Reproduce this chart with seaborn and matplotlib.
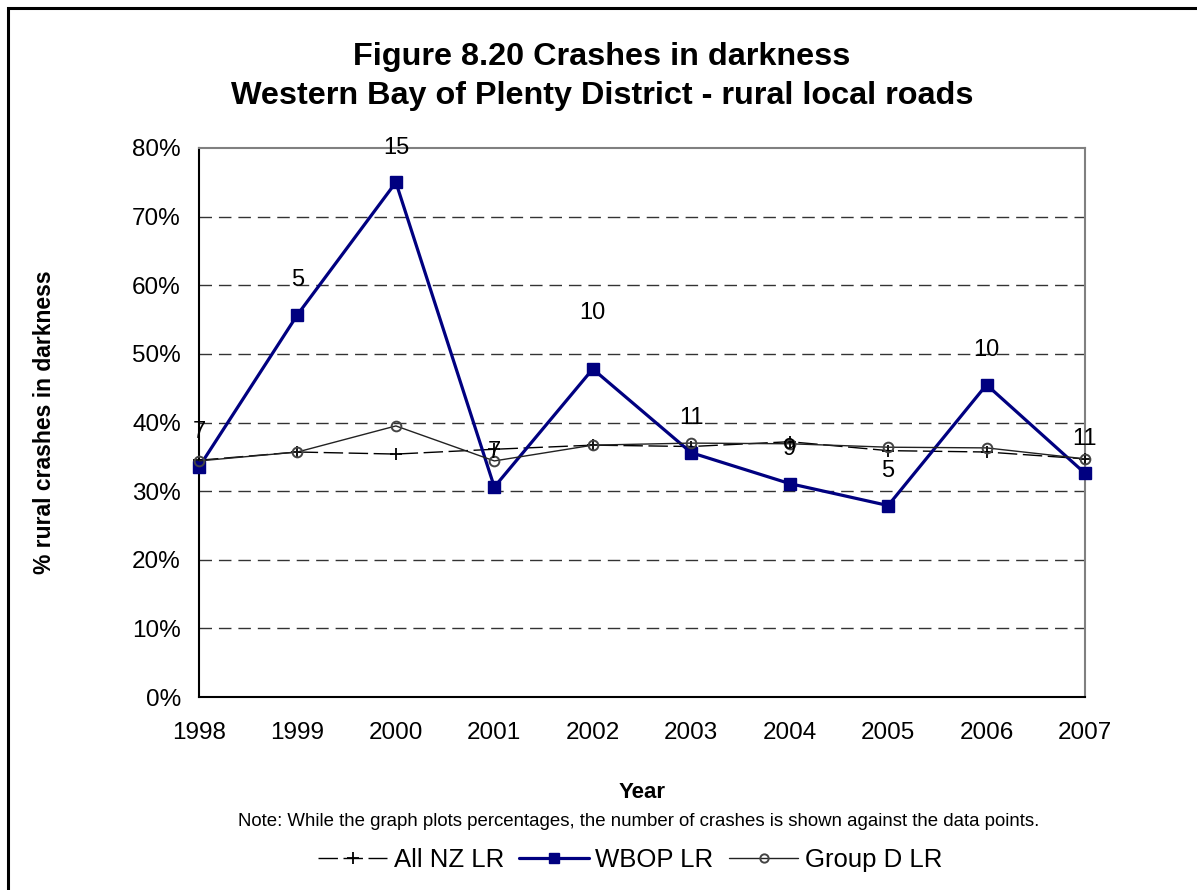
import pandas as pd
import matplotlib.pyplot as plt
import matplotlib.patches as patches
from matplotlib.lines import Line2D
from matplotlib.ticker import PercentFormatter
import seaborn as sns

years = [1998, 1999, 2000, 2001, 2002, 2003, 2004, 2005, 2006, 2007]
all_nz = [0.345, 0.357, 0.354, 0.361, 0.367, 0.365, 0.372, 0.359, 0.357, 0.347]
wbop = [0.335, 0.557, 0.750, 0.306, 0.478, 0.356, 0.311, 0.279, 0.455, 0.326]
group_d = [0.344, 0.357, 0.395, 0.344, 0.367, 0.370, 0.369, 0.364, 0.363, 0.347]
wbop_counts = [7, 5, 15, 7, 10, 11, 9, 5, 10, 11]

series_names = ['All NZ LR', 'WBOP LR', 'Group D LR']

sns.set_style('white')
plt.rcParams['font.family'] = ['Liberation Sans', 'DejaVu Sans']
plt.rcParams['text.color'] = 'black'
plt.rcParams['axes.labelcolor'] = 'black'
plt.rcParams['xtick.color'] = 'black'
plt.rcParams['ytick.color'] = 'black'

df = pd.DataFrame({
    'Year': years * 3,
    'value': all_nz + wbop + group_d,
    'series': [s for s in series_names for _ in years],
})

fig = plt.figure(figsize=(11.97, 8.90), dpi=100)
ax = fig.add_axes([199 / 1197, 1 - 697 / 890, (1085 - 199) / 1197, (697 - 148) / 890])

styles = {
    'All NZ LR': dict(color='black', lw=1.0, marker='+', ms=9, mew=1.3,
                      mfc='black', mec='black', dashes=(14, 4)),
    'WBOP LR': dict(color='#000080', lw=2.3, marker='s', ms=8, mew=1,
                    mfc='#000080', mec='#000080', dashes=()),
    'Group D LR': dict(color='#222222', lw=1.0, marker='o', ms=7, mew=1.4,
                       mfc='none', mec='#444444', dashes=()),
}

for name in series_names:
    st = styles[name]
    sub = df[df['series'] == name]
    line_ax = sns.lineplot(data=sub, x='Year', y='value', ax=ax, color=st['color'],
                           linewidth=st['lw'], marker=st['marker'], markersize=st['ms'],
                           markeredgewidth=st['mew'], markerfacecolor=st['mfc'],
                           markeredgecolor=st['mec'], legend=False, clip_on=False, zorder=3)
    ln = line_ax.lines[-1]
    if st['dashes']:
        ln.set_dashes(st['dashes'])

# number of crashes against WBOP points
for yr, v, n in zip(years, wbop, wbop_counts):
    off = 40 if yr == 2002 else 25
    ax.annotate(str(n), (yr, v), xytext=(0, off), textcoords='offset points',
                ha='center', va='center', fontsize=17, zorder=4)

ax.set_xlim(1998, 2007)
ax.set_ylim(0, 0.8)
ax.set_xticks(years)
ax.set_xticklabels([str(y) for y in years])
ax.set_yticks([i / 10 for i in range(9)])
ax.yaxis.set_major_formatter(PercentFormatter(1.0, decimals=0))
ax.tick_params(axis='both', labelsize=17.5, length=7, width=1, direction='out', color='black')
ax.tick_params(axis='x', pad=11)
ax.tick_params(axis='y', pad=6)

for y in [i / 10 for i in range(1, 8)]:
    ax.axhline(y, color='#333333', lw=1, dashes=(9, 5), zorder=1)

for side in ['left', 'bottom']:
    ax.spines[side].set_color('black')
    ax.spines[side].set_linewidth(1.5)
for side in ['top', 'right']:
    ax.spines[side].set_color('#808080')
    ax.spines[side].set_linewidth(1.5)

ax.set_xlabel('Year', fontsize=16, fontweight='bold', labelpad=27)
ax.set_ylabel('% rural crashes in darkness', fontsize=16.5, fontweight='bold', labelpad=55)

fig.text(602 / 1197, 1 - 57 / 890, 'Figure 8.20 Crashes in darkness', ha='center', va='center',
         fontsize=23.3, fontweight='bold')
fig.text(602 / 1197, 1 - 96 / 890, 'Western Bay of Plenty District - rural local roads',
         ha='center', va='center', fontsize=23.3, fontweight='bold')
fig.text(639 / 1197, 1 - 821 / 890,
         'Note: While the graph plots percentages, the number of crashes is shown against the data points.',
         ha='center', va='center', fontsize=13.4)

handles = []
for name in series_names:
    st = styles[name]
    h = Line2D([], [], color=st['color'], lw=st['lw'], marker=st['marker'], markersize=st['ms'] - 1,
               markeredgewidth=st['mew'], markerfacecolor=st['mfc'], markeredgecolor=st['mec'])
    if st['dashes']:
        h.set_dashes(st['dashes'])
    handles.append(h)
fig.legend(handles, series_names, loc='center', bbox_to_anchor=(630 / 1197, 1 - 860 / 890),
           ncol=3, frameon=False, fontsize=18.5, handlelength=2.7, handletextpad=0.25,
           columnspacing=0.6)

border = patches.Rectangle((8 / 1197, -0.1), 1.2, 1.1 - 8 / 890, transform=fig.transFigure,
                           fill=False, edgecolor='black', linewidth=2.2)
fig.patches.append(border)

fig.savefig('out.png', dpi=100)
